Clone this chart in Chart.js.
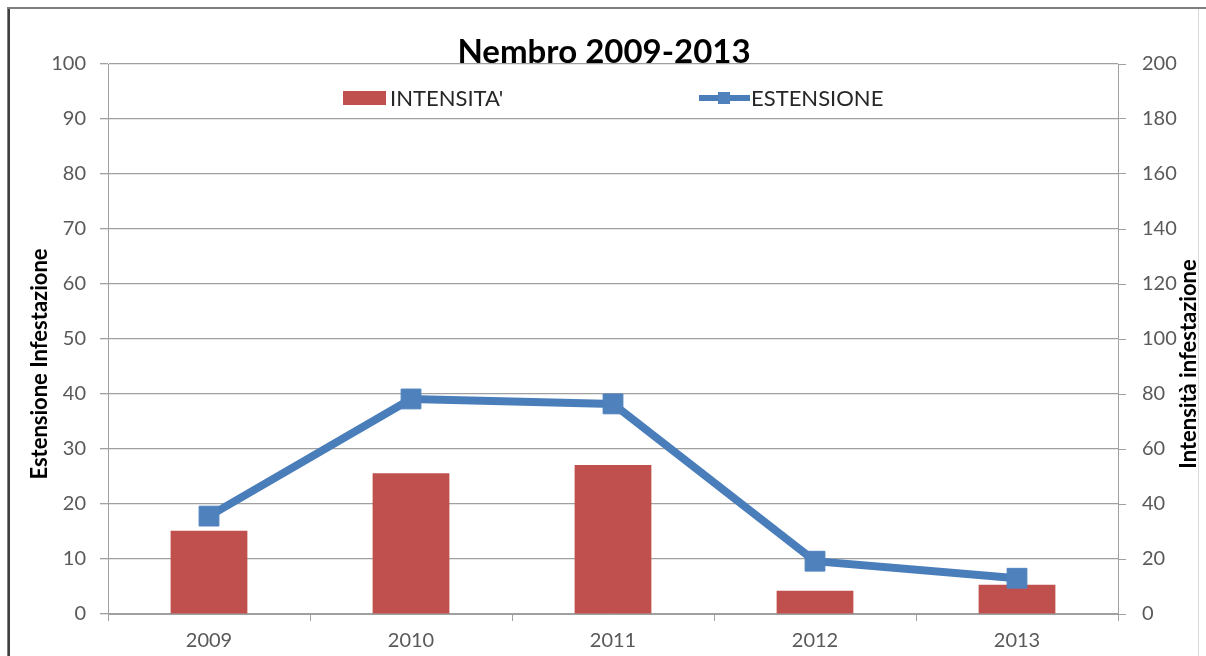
<!DOCTYPE html>
<html>
<head>
<meta charset="utf-8">
<script src="https://cdn.jsdelivr.net/npm/chart.js@4"></script>
<style>
  html, body { margin: 0; padding: 0; background: #fff; }
  #wrap { width: 1206px; height: 656px; position: relative; }
</style>
</head>
<body>
<div id="wrap"><canvas id="chart"></canvas></div>
<script>
// data
const years = ['2009', '2010', '2011', '2012', '2013'];
const intensita = [30.3, 51.2, 54.2, 8.5, 10.6];   // bars, right axis (0-200)
const estensione = [17.8, 39.1, 38.2, 9.6, 6.5];   // line, left axis (0-100)

const chartTitle = 'Nembro 2009-2013';
const leftTitle = 'Estensione Infestazione';
const rightTitle = 'Intensità infestazione';

const RED = '#C0504D';
const BLUE = '#4A7EBB';
const GRID = '#A0A0A0';
const TICK = '#595959';
const FONT = 'Lato, "Open Sans", sans-serif';

// frame, title, axis titles and the legend are drawn by hand, Excel-style
const decorPlugin = {
    id: 'decor',
    beforeDraw(chart) {
        const ctx = chart.ctx;
        ctx.save();
        ctx.fillStyle = '#fff';
        ctx.fillRect(0, 0, chart.width, chart.height);
        // outer frame
        ctx.strokeStyle = '#7f7f7f';
        ctx.lineWidth = 2;
        ctx.beginPath();
        ctx.moveTo(8, chart.height);
        ctx.lineTo(8, 8);
        ctx.lineTo(chart.width, 8);
        ctx.stroke();
        ctx.strokeStyle = '#d9d9d9';
        ctx.lineWidth = 1;
        ctx.beginPath();
        ctx.moveTo(1198.5, 9);
        ctx.lineTo(1198.5, chart.height);
        ctx.stroke();
        ctx.strokeStyle = '#404040';
        ctx.lineWidth = 2;
        ctx.beginPath();
        ctx.moveTo(9, 9);
        ctx.lineTo(9, chart.height);
        ctx.stroke();
        ctx.restore();
    },
    afterDraw(chart) {
        const ctx = chart.ctx;
        ctx.save();
        // title
        ctx.fillStyle = '#000';
        ctx.font = 'bold 33px ' + FONT;
        ctx.textAlign = 'center';
        ctx.textBaseline = 'alphabetic';
        ctx.fillText(chartTitle, 604, 63);

        // axis titles, both read bottom to top
        const midY = 364;
        ctx.font = 'bold 22px ' + FONT;
        ctx.textBaseline = 'middle';
        ctx.save();
        ctx.translate(40, midY);
        ctx.rotate(-Math.PI / 2);
        ctx.fillText(leftTitle, 0, 0);
        ctx.restore();
        ctx.save();
        ctx.translate(1189, midY);
        ctx.rotate(-Math.PI / 2);
        ctx.fillText(rightTitle, 0, 0);
        ctx.restore();

        // legend
        const ly = 98;
        ctx.font = '22px ' + FONT;
        ctx.textAlign = 'left';
        ctx.fillStyle = RED;
        ctx.fillRect(343, ly - 7, 43, 14);
        ctx.fillStyle = '#262626';
        ctx.fillText(chart.data.datasets[1].label, 390, ly + 1);

        ctx.strokeStyle = BLUE;
        ctx.lineWidth = 6;
        ctx.beginPath();
        ctx.moveTo(699, ly);
        ctx.lineTo(750, ly);
        ctx.stroke();
        ctx.fillStyle = '#4F81BD';
        ctx.fillRect(718, ly - 6, 12, 12);
        ctx.fillStyle = '#262626';
        ctx.fillText(chart.data.datasets[0].label, 751, ly + 1);
        ctx.restore();
    }
};

new Chart(document.getElementById('chart'), {
    type: 'bar',
    data: {
        labels: years,
        datasets: [
            {
                type: 'line',
                label: 'ESTENSIONE',
                data: estensione,
                yAxisID: 'y',
                borderColor: BLUE,
                borderWidth: 8,
                pointStyle: 'rect',
                pointRadius: 14,
                pointBackgroundColor: '#4F81BD',
                pointBorderColor: '#4F81BD',
                pointBorderWidth: 1,
                tension: 0,
                order: 1
            },
            {
                label: "INTENSITA'",
                data: intensita,
                yAxisID: 'y2',
                backgroundColor: RED,
                categoryPercentage: 0.38,
                barPercentage: 1,
                order: 2
            }
        ]
    },
    options: {
        responsive: true,
        maintainAspectRatio: false,
        animation: false,
        layout: { padding: { top: 64, left: 0, right: 0, bottom: 0 } },
        plugins: {
            legend: { display: false },
            title: { display: false },
            tooltip: { enabled: false }
        },
        scales: {
            x: {
                grid: {
                    drawOnChartArea: false,
                    tickLength: 7,
                    color: GRID
                },
                border: { color: GRID },
                ticks: { color: TICK, font: { family: FONT, size: 20 }, padding: 8 },
                afterFit(scale) { scale.height = 42; }
            },
            y: {
                position: 'left',
                min: 0,
                max: 100,
                ticks: { stepSize: 10, color: TICK, font: { family: FONT, size: 20 }, padding: 14 },
                grid: { color: GRID, tickLength: 8, lineWidth: 1.3 },
                border: { color: GRID },
                afterFit(scale) { scale.width = 108; }
            },
            y2: {
                position: 'right',
                min: 0,
                max: 200,
                ticks: { stepSize: 20, color: TICK, font: { family: FONT, size: 20 }, padding: 16 },
                grid: { drawOnChartArea: false, color: GRID, tickLength: 8 },
                border: { color: GRID },
                afterFit(scale) { scale.width = 88; }
            }
        }
    },
    plugins: [decorPlugin]
});
</script>
</body>
</html>
